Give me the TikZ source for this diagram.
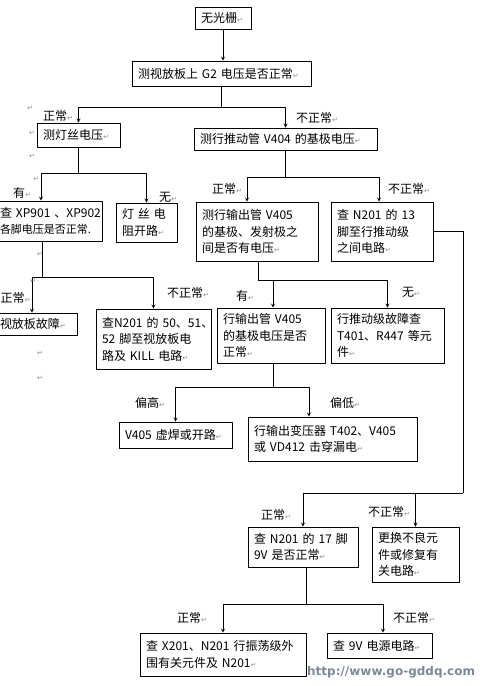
\documentclass[tikz,border=0pt]{standalone}
\usepackage{fontspec}
\setmainfont{Noto Sans CJK SC}
\newfontfamily\symfont{DejaVu Sans}
\newfontfamily\webfont{DejaVu Sans}
\definecolor{webblue}{HTML}{7D889A}
\newcommand\pmk{{\symfont\fontsize{7}{7}\selectfont\textcolor{black!45}{↵}}}
\tikzset{
  box/.style={draw, line width=0.8pt, inner xsep=6pt, inner ysep=3pt, align=left},
  lab/.style={anchor=west, inner sep=0pt},
  link/.style={line width=0.8pt},
}
\begin{document}
\begin{tikzpicture}[x=1pt, y=-1pt, line join=round, >=stealth, font=\fontsize{12}{16.5}\selectfont]
			\useasboundingbox (0,0) rectangle (485,686);
			% boxes
			\node[box, text width=44pt, minimum height=22pt] (nolight) at (223,18) {无光栅\pmk};
			\node[box, text width=167pt, minimum height=25pt] (gtwo) at (221.5,73.5) {测视放板上 G2 电压是否正常\pmk};
			\node[box, text width=71pt, minimum height=24pt] (fil) at (78.5,135) {测灯丝电压\pmk};
			\node[box, text width=171pt, minimum height=22pt] (vfour) at (285.5,139) {测行推动管 V404 的基极电压\pmk};
			\node[box, text width=96pt, minimum height=40pt] (xp) at (48,221) {\mbox{查 XP901 、XP902}\\\mbox{\fontsize{11}{14}\selectfont 各脚电压是否正常.}};
			\node[box, text width=49pt, minimum height=39pt] (filopen) at (146.5,222.5) {灯 丝 电\\阻开路\pmk};
			\node[box, text width=110pt, minimum height=59pt] (vfive) at (257,231.5) {测行输出管 V405\\的基极、发射极之\\间是否有电压\pmk};
			\node[box, text width=90pt, minimum height=59pt] (thirteen) at (382,231.5) {查 N201 的 13\\脚至行推动级\\之间电路\pmk};
			\node[box, text width=71pt, minimum height=22pt] (vidfault) at (35.5,324) {视放板故障\pmk};
			\node[box, text width=103pt, minimum height=60pt] (fifty) at (153.5,339) {\mbox{查N201 的 50、51、}\\\mbox{52 脚至视放板电}\\\mbox{路及 KILL 电路\pmk}};
			\node[box, text width=96pt, minimum height=55pt] (base) at (271,335.5) {行输出管 V405\\的基极电压是否\\正常\pmk};
			\node[box, text width=101pt, minimum height=55pt] (drive) at (387.5,335.5) {行推动级故障查\\T401、R447 等元\\件\pmk};
			\node[box, text width=101pt, minimum height=26pt] (solder) at (175.5,435) {V405 虚焊或开路\pmk};
			\node[box, text width=157pt, minimum height=44pt] (trans) at (332.5,439) {行输出变压器 T402、V405\\或 VD412 击穿漏电\pmk};
			\node[box, text width=98pt, minimum height=40pt] (nine) at (303,547) {查 N201 的 17 脚\\9V 是否正常\pmk};
			\node[box, text width=75pt, minimum height=55pt] (repl) at (415.5,554.5) {更换不良元\\件或修复有\\关电路\pmk};
			\node[box, text width=154pt, minimum height=43pt] (osc) at (223,654.5) {查 X201、N201 行振荡级外\\围有关元件及 N201\pmk};
			\node[box, text width=93pt, minimum height=25pt] (power) at (379.5,645.5) {查 9V 电源电路\pmk};
			% connectors
			\draw[link,->] (nolight.south) -- (nolight.south |- gtwo.north);
			\draw[link] (gtwo.south) -- ++(0,21) coordinate (f1);
			\draw[link,->] (f1) -| (fil.north);
			\draw[link,->] (f1) -| (vfour.north);
			\draw[link] (fil.south) -- ++(0,26) coordinate (f2);
			\draw[link,->] (f2) -| ([xshift=-7pt]xp.north);
			\draw[link,->] (f2) -| (filopen.north);
			\draw[link] (vfour.south) -- ++(0,27) coordinate (f3);
			\draw[link,->] (f3) -| ([xshift=-10pt]vfive.north);
			\draw[link,->] (f3) -| ([xshift=-3pt]thirteen.north);
			\draw[link] ([xshift=-6pt]xp.south) -- ++(0,36) coordinate (f4);
			\draw[link,->] (f4) -| ([xshift=-3.5pt]vidfault.north);
			\draw[link,->] (f4) -| (fifty.north);
			\draw[link] ([xshift=1pt]vfive.south) -- ++(0,19) coordinate (f5);
			\draw[link,->] (f5) -| ([xshift=2pt]base.north);
			\draw[link,->] (f5) -| (drive.north);
			\draw[link] ([xshift=2pt]base.south) -- ++(0,24) coordinate (f6);
			\draw[link,->] (f6) -| (solder.north);
			\draw[link,->] (f6) -| ([xshift=-23.5pt]trans.north);
			\coordinate (f7) at (463,493);
			\draw[link] (thirteen.east) -| (f7);
			\draw[link,->] (f7) -| (nine.north);
			\draw[link,->] (f7) -| (repl.north);
			\draw[link] ([xshift=3pt]nine.south) -- ++(0,37) coordinate (f8);
			\draw[link,->] (f8) -| (osc.north);
			\draw[link,->] (f8) -| ([xshift=3.5pt]power.north);
			% labels
			\node[lab] (l1) at (43,116) {正常\pmk};
			\node[lab] (l2) at (296,118) {不正常\pmk};
			\node[lab] (l3) at (13,193) {有\pmk};
			\node[lab] (l4) at (159,197) {无\pmk};
			\node[lab] (l5) at (212,189) {正常\pmk};
			\node[lab] (l6) at (388,189) {不正常\pmk};
			\node[lab] (l7) at (0.5,298) {正常\pmk};
			\node[lab] (l8) at (167,293) {不正常\pmk};
			\node[lab] (l9) at (236,296) {有\pmk};
			\node[lab] (l10) at (402,292) {无\pmk};
			\node[lab] (l11) at (135,403) {偏高\pmk};
			\node[lab] (l12) at (330,403) {偏低\pmk};
			\node[lab] (l13) at (261,515) {正常\pmk};
			\node[lab] (l14) at (368,512) {不正常\pmk};
			\node[lab] (l15) at (177,618) {正常\pmk};
			\node[lab] (l16) at (393,618) {不正常\pmk};
			% stray paragraph marks
			\foreach \px/\py [count=\i] in {30/108, 32/133, 32/156, 36/179, 40/254, 33/281, 40/353, 40/378}
				\node[inner sep=0pt] (pm\i) at (\px,\py) {\pmk};
			\node[anchor=west, inner sep=0pt, text=webblue, font=\webfont\bfseries\fontsize{12}{12}\selectfont] (web) at (307,672) {http://www.go-gddq.com};
		\end{tikzpicture}
\end{document}
